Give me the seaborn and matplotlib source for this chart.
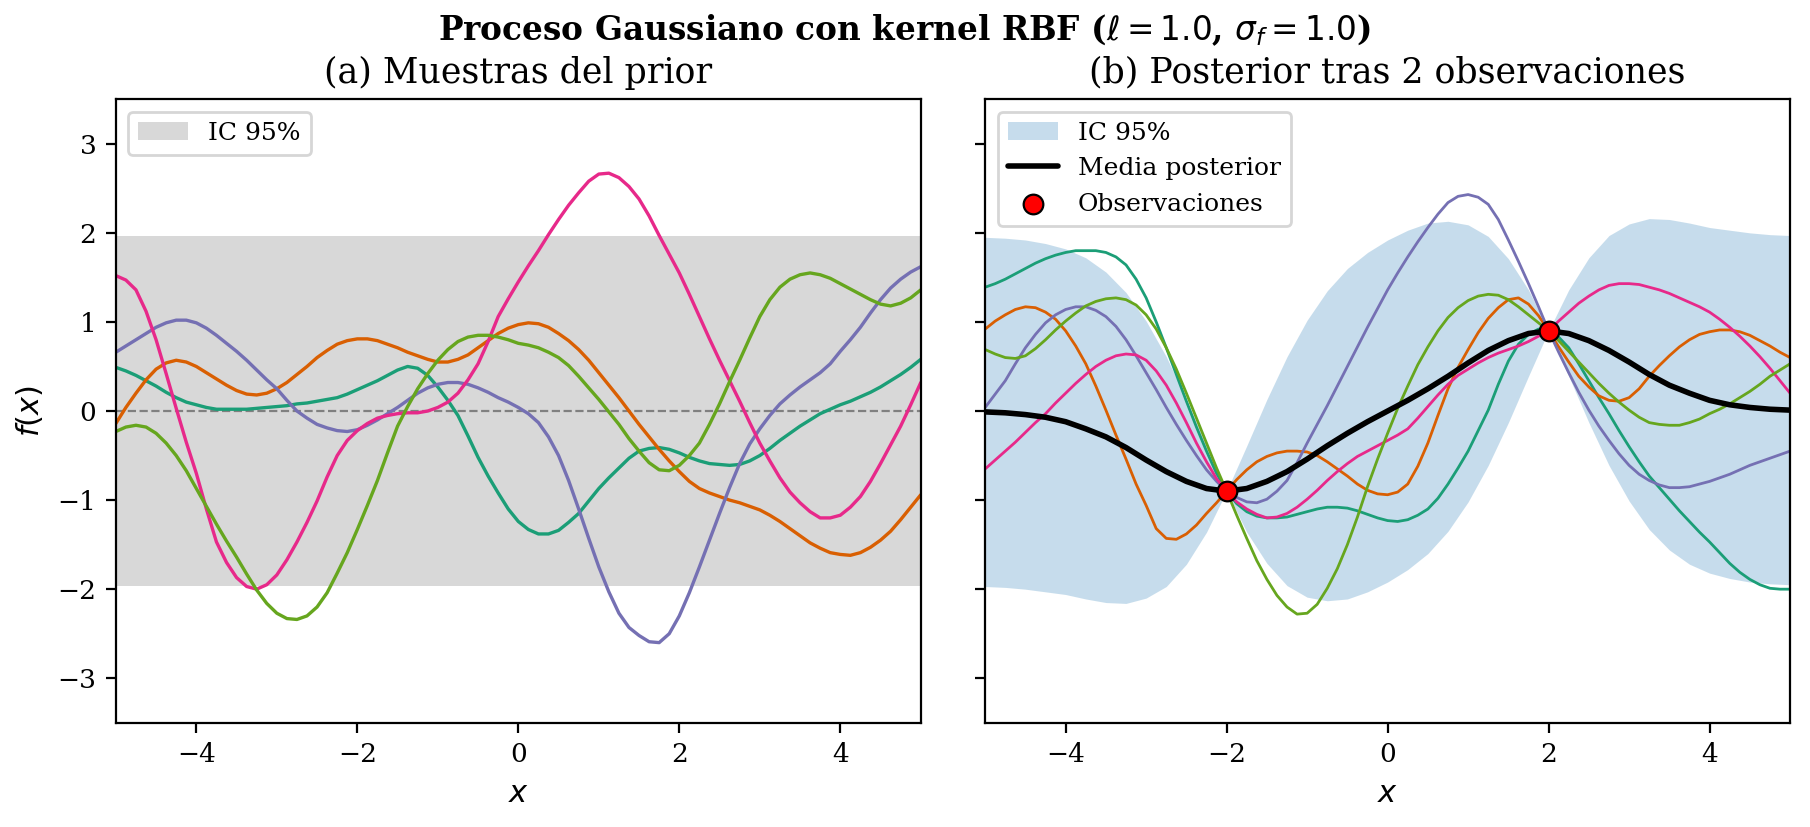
import numpy as np
import pandas as pd
import matplotlib
matplotlib.use("Agg")
import matplotlib.pyplot as plt
import seaborn as sns

# x positions the sample curves were read at (every 0.125)
x_fine = np.linspace(-5, 5, 81)
# x positions the posterior mean / band were read at (every 0.25)
x = np.linspace(-5, 5, 41)

# (a) prior samples
prior_teal = [0.49, 0.45, 0.40, 0.34, 0.28, 0.21, 0.15, 0.10, 0.07, 0.04, 0.02, 0.02, 0.02, 0.02, 0.03, 0.04, 0.05, 0.06, 0.08, 0.09,
              0.11, 0.13, 0.15, 0.19, 0.24, 0.29, 0.34, 0.40, 0.46, 0.50, 0.48, 0.40, 0.27, 0.12, -0.05, -0.28, -0.52, -0.73, -0.92, -1.10,
              -1.24, -1.33, -1.38, -1.38, -1.34, -1.25, -1.15, -1.01, -0.87, -0.75, -0.64, -0.53, -0.45, -0.42, -0.41, -0.43, -0.47, -0.52, -0.56, -0.59,
              -0.60, -0.61, -0.60, -0.56, -0.50, -0.42, -0.33, -0.25, -0.17, -0.10, -0.03, 0.02, 0.07, 0.11, 0.16, 0.21, 0.27, 0.34, 0.41, 0.49, 0.58]
prior_orange = [-0.14, 0.04, 0.20, 0.35, 0.47, 0.54, 0.57, 0.55, 0.50, 0.43, 0.36, 0.29, 0.23, 0.19, 0.18, 0.20, 0.25, 0.32, 0.41, 0.50,
                0.60, 0.68, 0.75, 0.79, 0.81, 0.81, 0.79, 0.75, 0.71, 0.66, 0.62, 0.58, 0.55, 0.55, 0.58, 0.63, 0.71, 0.79, 0.87, 0.93,
                0.97, 0.99, 0.98, 0.94, 0.87, 0.79, 0.69, 0.57, 0.43, 0.29, 0.15, 0.00, -0.15, -0.29, -0.43, -0.56, -0.68, -0.79, -0.87, -0.92,
                -0.96, -1.00, -1.03, -1.07, -1.11, -1.17, -1.24, -1.32, -1.40, -1.48, -1.54, -1.59, -1.61, -1.62, -1.59, -1.53, -1.45, -1.35, -1.22, -1.08, -0.94]
prior_purple = [0.66, 0.73, 0.80, 0.87, 0.94, 0.99, 1.02, 1.02, 0.99, 0.93, 0.85, 0.76, 0.67, 0.57, 0.46, 0.35, 0.25, 0.12, 0.00, -0.08,
                -0.15, -0.19, -0.22, -0.23, -0.21, -0.16, -0.10, -0.03, 0.04, 0.12, 0.20, 0.26, 0.30, 0.32, 0.32, 0.30, 0.26, 0.21, 0.15, 0.10,
                0.04, -0.03, -0.13, -0.29, -0.50, -0.78, -1.10, -1.43, -1.75, -2.03, -2.27, -2.43, -2.52, -2.59, -2.60, -2.50, -2.30, -2.04, -1.75, -1.45,
                -1.15, -0.86, -0.59, -0.37, -0.20, -0.05, 0.08, 0.18, 0.27, 0.35, 0.43, 0.53, 0.67, 0.80, 0.94, 1.10, 1.25, 1.38, 1.48, 1.56, 1.62]
prior_pink = [1.52, 1.47, 1.36, 1.12, 0.80, 0.42, 0.03, -0.35, -0.70, -1.10, -1.47, -1.70, -1.87, -1.97, -2.00, -1.95, -1.84, -1.67, -1.47, -1.25,
              -1.01, -0.74, -0.50, -0.33, -0.22, -0.14, -0.08, -0.05, -0.03, -0.02, -0.02, 0.00, 0.04, 0.10, 0.20, 0.35, 0.53, 0.78, 1.06, 1.26,
              1.45, 1.63, 1.80, 1.98, 2.15, 2.31, 2.45, 2.58, 2.66, 2.67, 2.62, 2.52, 2.38, 2.19, 1.97, 1.76, 1.55, 1.31, 1.06, 0.81,
              0.57, 0.34, 0.11, -0.13, -0.36, -0.56, -0.75, -0.91, -1.03, -1.13, -1.20, -1.20, -1.17, -1.08, -0.96, -0.79, -0.59, -0.38, -0.17, 0.07, 0.32]
prior_green = [-0.23, -0.18, -0.16, -0.18, -0.25, -0.36, -0.50, -0.67, -0.87, -1.07, -1.27, -1.46, -1.64, -1.83, -2.01, -2.16, -2.27, -2.33, -2.34, -2.30,
               -2.20, -2.04, -1.82, -1.59, -1.33, -1.06, -0.78, -0.47, -0.17, 0.05, 0.25, 0.42, 0.57, 0.69, 0.78, 0.83, 0.85, 0.85, 0.83, 0.80,
               0.76, 0.74, 0.71, 0.66, 0.60, 0.51, 0.39, 0.26, 0.13, -0.01, -0.15, -0.31, -0.45, -0.58, -0.66, -0.67, -0.61, -0.50, -0.36, -0.15,
               0.08, 0.33, 0.57, 0.82, 1.06, 1.25, 1.39, 1.48, 1.53, 1.55, 1.53, 1.49, 1.43, 1.37, 1.31, 1.25, 1.20, 1.18, 1.21, 1.27, 1.36]

# (b) posterior samples
post_teal = [1.39, 1.43, 1.48, 1.54, 1.60, 1.66, 1.71, 1.75, 1.78, 1.80, 1.80, 1.80, 1.78, 1.73, 1.64, 1.48, 1.27, 1.00, 0.71, 0.41,
             0.11, -0.18, -0.45, -0.70, -0.90, -1.04, -1.13, -1.18, -1.20, -1.20, -1.19, -1.16, -1.13, -1.10, -1.08, -1.08, -1.09, -1.12, -1.16, -1.20,
             -1.23, -1.24, -1.22, -1.17, -1.10, -0.98, -0.82, -0.64, -0.45, -0.22, 0.01, 0.30, 0.56, 0.75, 0.86, 0.92, 0.90, 0.83, 0.71, 0.53,
             0.34, 0.15, -0.03, -0.22, -0.40, -0.57, -0.73, -0.86, -0.99, -1.12, -1.24, -1.36, -1.47, -1.59, -1.71, -1.81, -1.89, -1.95, -1.99, -2.00, -2.00]
post_orange = [0.92, 1.01, 1.08, 1.14, 1.17, 1.16, 1.11, 1.03, 0.90, 0.73, 0.53, 0.28, 0.01, -0.27, -0.54, -0.82, -1.06, -1.32, -1.43, -1.44,
               -1.38, -1.28, -1.15, -1.03, -0.90, -0.77, -0.66, -0.57, -0.51, -0.47, -0.45, -0.45, -0.46, -0.50, -0.57, -0.65, -0.73, -0.82, -0.89, -0.93,
               -0.94, -0.91, -0.82, -0.62, -0.36, -0.05, 0.25, 0.49, 0.69, 0.88, 1.04, 1.16, 1.25, 1.27, 1.20, 1.07, 0.90, 0.72, 0.55, 0.39,
               0.27, 0.17, 0.12, 0.11, 0.15, 0.25, 0.39, 0.51, 0.62, 0.72, 0.80, 0.86, 0.89, 0.91, 0.91, 0.89, 0.85, 0.79, 0.73, 0.66, 0.60]
post_purple = [0.04, 0.19, 0.34, 0.53, 0.71, 0.86, 0.99, 1.08, 1.14, 1.17, 1.17, 1.13, 1.06, 0.95, 0.80, 0.62, 0.43, 0.24, 0.04, -0.15,
               -0.33, -0.50, -0.66, -0.79, -0.90, -0.97, -1.02, -1.03, -0.99, -0.90, -0.78, -0.58, -0.36, -0.15, 0.06, 0.28, 0.50, 0.72, 0.94, 1.15,
               1.36, 1.55, 1.73, 1.90, 2.06, 2.21, 2.34, 2.41, 2.43, 2.40, 2.32, 2.15, 1.92, 1.68, 1.43, 1.17, 0.90, 0.66, 0.43, 0.21,
               0.01, -0.17, -0.33, -0.48, -0.61, -0.71, -0.78, -0.83, -0.86, -0.86, -0.85, -0.82, -0.79, -0.75, -0.71, -0.66, -0.61, -0.57, -0.53, -0.49, -0.45]
post_pink = [-0.65, -0.55, -0.45, -0.35, -0.24, -0.13, -0.03, 0.09, 0.20, 0.31, 0.41, 0.50, 0.57, 0.62, 0.64, 0.63, 0.57, 0.45, 0.29, 0.09,
             -0.13, -0.36, -0.57, -0.76, -0.90, -1.02, -1.10, -1.16, -1.20, -1.19, -1.15, -1.08, -0.99, -0.89, -0.78, -0.68, -0.59, -0.51, -0.45, -0.39,
             -0.33, -0.27, -0.20, -0.08, 0.05, 0.18, 0.30, 0.40, 0.47, 0.54, 0.60, 0.65, 0.69, 0.73, 0.78, 0.84, 0.90, 1.01, 1.11, 1.21,
             1.29, 1.36, 1.41, 1.43, 1.43, 1.42, 1.39, 1.36, 1.32, 1.27, 1.22, 1.17, 1.11, 1.03, 0.94, 0.84, 0.73, 0.61, 0.48, 0.34, 0.20]
post_green = [0.69, 0.64, 0.60, 0.59, 0.62, 0.70, 0.80, 0.91, 1.01, 1.10, 1.18, 1.23, 1.26, 1.27, 1.25, 1.19, 1.08, 0.92, 0.71, 0.47,
              0.20, -0.08, -0.36, -0.64, -0.90, -1.17, -1.43, -1.68, -1.89, -2.07, -2.20, -2.28, -2.27, -2.17, -1.99, -1.77, -1.50, -1.19, -0.85, -0.54,
              -0.25, 0.03, 0.28, 0.52, 0.72, 0.90, 1.05, 1.16, 1.24, 1.29, 1.31, 1.30, 1.25, 1.17, 1.08, 0.99, 0.90, 0.79, 0.67, 0.55,
              0.43, 0.31, 0.20, 0.10, 0.01, -0.07, -0.13, -0.15, -0.16, -0.16, -0.13, -0.09, -0.03, 0.02, 0.08, 0.15, 0.22, 0.30, 0.39, 0.46, 0.53]

post_mean = [-0.01, -0.02, -0.04, -0.07, -0.12, -0.20, -0.29, -0.41, -0.55, -0.68, -0.79, -0.87, -0.90, -0.87, -0.79, -0.68, -0.54, -0.39, -0.25, -0.12, 0.00,
             0.12, 0.25, 0.39, 0.54, 0.68, 0.79, 0.87, 0.90, 0.87, 0.79, 0.68, 0.55, 0.41, 0.29, 0.20, 0.12, 0.07, 0.04, 0.02, 0.01]
post_upper = [1.95, 1.94, 1.92, 1.88, 1.82, 1.72, 1.56, 1.33, 1.01, 0.61, 0.13, -0.39, -0.90, -0.39, 0.13, 0.61, 1.02, 1.35, 1.60, 1.78, 1.92,
              2.03, 2.11, 2.13, 2.09, 1.96, 1.71, 1.36, 0.90, 1.36, 1.72, 1.97, 2.10, 2.16, 2.15, 2.11, 2.06, 2.03, 2.00, 1.98, 1.97]
post_lower = [-1.97, -1.98, -2.00, -2.03, -2.06, -2.11, -2.15, -2.16, -2.10, -1.97, -1.72, -1.36, -0.90, -1.36, -1.71, -1.96, -2.09, -2.13, -2.11, -2.03, -1.92,
              -1.78, -1.60, -1.35, -1.02, -0.61, -0.13, 0.39, 0.90, 0.39, -0.13, -0.61, -1.01, -1.33, -1.56, -1.72, -1.82, -1.88, -1.92, -1.94, -1.95]

obs_x = [-2.0, 2.0]
obs_y = [-0.9, 0.9]

prior_ci = 1.96

sample_names = ["s1", "s2", "s3", "s4", "s5"]
palette = dict(zip(sample_names, sns.color_palette("Dark2", 5)))

prior_df = pd.DataFrame({
    "x": np.tile(x_fine, 5),
    "f": np.concatenate([prior_teal, prior_orange, prior_purple, prior_pink, prior_green]),
    "muestra": np.repeat(sample_names, len(x_fine)),
})
post_df = pd.DataFrame({
    "x": np.tile(x_fine, 5),
    "f": np.concatenate([post_teal, post_orange, post_purple, post_pink, post_green]),
    "muestra": np.repeat(sample_names, len(x_fine)),
})

sns.set_style("ticks", {"axes.edgecolor": "black", "text.color": "black",
                        "axes.labelcolor": "black", "xtick.color": "black",
                        "ytick.color": "black"})
plt.rcParams["font.family"] = ["DejaVu Serif"]

fig, (ax1, ax2) = plt.subplots(1, 2, figsize=(9.05, 4.135), dpi=200, sharey=True)
fig.subplots_adjust(left=0.064, right=0.989, top=0.880, bottom=0.126, wspace=0.08)

# (a) prior
ax1.fill_between([-5, 5], -prior_ci, prior_ci, color="gray", alpha=0.3, lw=0, label="IC 95%")
ax1.axhline(0, color="gray", ls="--", lw=0.8)
sns.lineplot(data=prior_df, x="x", y="f", hue="muestra", palette=palette, lw=1.2,
             legend=False, ax=ax1)
ax1.set_xlim(-5, 5)
ax1.set_ylim(-3.5, 3.5)
ax1.set_title("(a) Muestras del prior", fontsize=12.5)
ax1.set_xlabel("$x$", fontsize=11)
ax1.set_ylabel("$f(x)$", fontsize=11)
ax1.legend(loc="upper left", fontsize=9)

# (b) posterior
ax2.fill_between(x, post_lower, post_upper, color="C0", alpha=0.25, lw=0, label="IC 95%")
sns.lineplot(data=post_df, x="x", y="f", hue="muestra", palette=palette, lw=1.0,
             legend=False, ax=ax2)
sns.lineplot(x=x, y=post_mean, color="black", lw=2.0, label="Media posterior", ax=ax2)
sns.scatterplot(x=obs_x, y=obs_y, color="red", edgecolor="black", linewidth=0.8, s=50,
                zorder=5, label="Observaciones", ax=ax2)
ax2.set_xlim(-5, 5)
ax2.set_title("(b) Posterior tras 2 observaciones", fontsize=12.5)
ax2.set_xlabel("$x$", fontsize=11)
ax2.set_ylabel("")
handles, labels = ax2.get_legend_handles_labels()
order = [labels.index(l) for l in ["IC 95%", "Media posterior", "Observaciones"]]
ax2.legend([handles[i] for i in order], [labels[i] for i in order], loc="upper left", fontsize=9)

for ax in (ax1, ax2):
    ax.tick_params(labelsize=9.5)
    for sp in ax.spines.values():
        sp.set_visible(True)

fig.suptitle(r"Proceso Gaussiano con kernel RBF ($\ell = 1.0$, $\sigma_f = 1.0$)",
             fontsize=11.8, fontweight="bold", y=0.985)

fig.savefig("out.png", dpi=200)
